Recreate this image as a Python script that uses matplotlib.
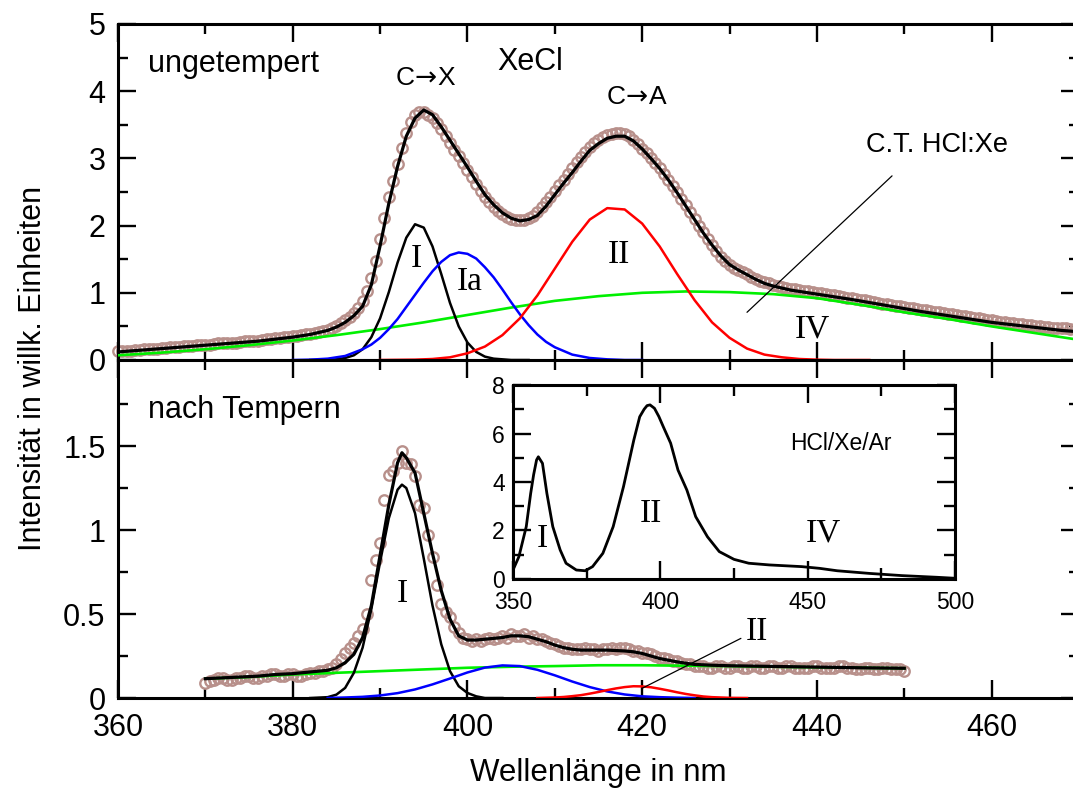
import numpy as np
import matplotlib
matplotlib.use("Agg")
import matplotlib.pyplot as plt
from matplotlib.ticker import MultipleLocator, FixedLocator, FormatStrFormatter

plt.rcParams['font.family'] = ['Liberation Sans', 'DejaVu Sans']

# ---------------- top panel (ungetempert) ----------------
top_data_x = np.arange(360, 470.25, 0.5)
top_data_y = [0.13, 0.13, 0.14, 0.14, 0.15, 0.15, 0.16, 0.17, 0.17, 0.17,   # 360
              0.18, 0.18, 0.19, 0.19, 0.20, 0.21, 0.21, 0.21, 0.22, 0.22,   # 365
              0.23, 0.23, 0.24, 0.25, 0.25, 0.25, 0.26, 0.26, 0.27, 0.28,   # 370
              0.28, 0.28, 0.29, 0.30, 0.31, 0.31, 0.32, 0.33, 0.34, 0.34,   # 375
              0.35, 0.36, 0.37, 0.38, 0.39, 0.40, 0.42, 0.43,               # 380 - 383.5
              0.45, 0.48, 0.51, 0.55, 0.59, 0.64, 0.70, 0.78, 0.88, 1.03,   # 384
              1.22, 1.48, 1.80, 2.12, 2.42, 2.66, 2.92, 3.15, 3.38, 3.54,   # 389
              3.64, 3.69, 3.69, 3.65, 3.60, 3.52, 3.43, 3.33, 3.23, 3.13,   # 394
              3.03, 2.93, 2.83, 2.73, 2.62, 2.52, 2.43, 2.35, 2.28, 2.22,   # 399
              2.17, 2.13, 2.10, 2.08, 2.08, 2.09, 2.11, 2.15, 2.20, 2.27,   # 404
              2.35, 2.43, 2.51, 2.60, 2.68, 2.77, 2.85, 2.94, 3.02, 3.10,   # 409
              3.17, 3.23, 3.28, 3.32, 3.35, 3.37, 3.38, 3.38, 3.36, 3.33,   # 414
              3.28, 3.22, 3.14, 3.08, 3.01, 2.93, 2.85, 2.77, 2.68, 2.59,   # 419
              2.50, 2.40, 2.30, 2.20, 2.10, 2.00, 1.90, 1.80, 1.71, 1.62,   # 424
              1.54, 1.47,                                                   # 429
              1.41, 1.37, 1.34, 1.31, 1.28, 1.24, 1.21, 1.18, 1.16, 1.14,   # 430
              1.12, 1.10, 1.09, 1.07, 1.06, 1.05, 1.04, 1.03, 1.02, 1.01,   # 435
              1.00, 0.99, 0.98, 0.97, 0.96, 0.95, 0.94, 0.93, 0.92, 0.91,   # 440
              0.90, 0.89, 0.88, 0.86, 0.85, 0.84, 0.83, 0.82, 0.81, 0.80,   # 445
              0.79, 0.78, 0.77, 0.76, 0.75, 0.74, 0.73, 0.72, 0.71, 0.70,   # 450
              0.69, 0.68, 0.67, 0.66, 0.65, 0.64, 0.63, 0.62, 0.61, 0.60,   # 455
              0.59, 0.58, 0.57, 0.56, 0.55, 0.55, 0.54, 0.53, 0.52, 0.52,   # 460
              0.51, 0.50, 0.49, 0.49, 0.48, 0.48, 0.47, 0.47, 0.46, 0.46,   # 465
              0.45]                                                         # 470

top_fit_x = [360, 362, 364, 366, 368, 370, 372, 374, 376, 378, 380, 381, 382, 383, 384, 385,
             386, 387, 388, 389, 390, 391, 392, 393, 394, 395, 396, 397, 398, 399, 400, 401,
             402, 403, 404, 405, 406, 407, 408, 409, 410, 411, 412, 413, 414, 415, 416, 417,
             418, 419, 420, 421, 422, 423, 424, 425, 426, 427, 428, 429, 430, 431, 432, 433,
             434, 435, 436, 437, 438, 440, 444, 448, 452, 456, 460, 464, 468, 470]
top_fit_y = [0.12, 0.14, 0.16, 0.18, 0.20, 0.22, 0.24, 0.26, 0.28, 0.31, 0.34, 0.36, 0.38, 0.41, 0.44, 0.49,
             0.56, 0.66, 0.80, 1.12, 1.70, 2.33, 2.88, 3.33, 3.60, 3.72, 3.65, 3.47, 3.27, 3.07, 2.87, 2.66,
             2.46, 2.31, 2.19, 2.11, 2.07, 2.09, 2.15, 2.29, 2.46, 2.63, 2.79, 2.96, 3.12, 3.22, 3.30, 3.33,
             3.33, 3.26, 3.14, 3.00, 2.85, 2.68, 2.49, 2.29, 2.09, 1.89, 1.71, 1.55, 1.42, 1.34, 1.27, 1.20,
             1.14, 1.10, 1.07, 1.04, 1.02, 0.98, 0.90, 0.81, 0.72, 0.64, 0.56, 0.50, 0.44, 0.42]

top_I_x = [382, 384, 385, 386, 387, 388, 389, 390, 391, 392, 393, 394, 395, 396, 397, 398,
           399, 400, 401, 402, 403, 404, 405, 407]
top_I_y = [0.0, 0.0, 0.01, 0.03, 0.07, 0.16, 0.34, 0.62, 1.01, 1.45, 1.82, 2.02, 1.97, 1.69, 1.28, 0.85,
           0.50, 0.26, 0.12, 0.05, 0.02, 0.01, 0.0, 0.0]

top_Ia_x = [380, 382, 384, 386, 388, 389, 390, 391, 392, 393, 394, 395, 396, 397, 398, 399,
            400, 401, 402, 403, 404, 405, 406, 407, 408, 409, 410, 412, 414, 416, 418, 420]
top_Ia_y = [0.0, 0.005, 0.02, 0.06, 0.16, 0.23, 0.33, 0.46, 0.61, 0.79, 0.97, 1.15, 1.32, 1.46, 1.56, 1.60,
            1.58, 1.51, 1.38, 1.23, 1.05, 0.86, 0.68, 0.52, 0.38, 0.27, 0.19, 0.08, 0.03, 0.01, 0.0, 0.0]

top_II_x = [390, 394, 396, 398, 400, 402, 404, 406, 408, 410, 412, 414, 416, 418, 420, 422,
            424, 426, 428, 430, 432, 434, 436, 438, 440, 442, 446]
top_II_y = [0.0, 0.005, 0.015, 0.04, 0.10, 0.20, 0.37, 0.62, 0.96, 1.36, 1.76, 2.09, 2.26, 2.24, 2.03, 1.69,
            1.28, 0.89, 0.56, 0.33, 0.17, 0.08, 0.04, 0.015, 0.005, 0.0, 0.0]

top_IV_x = [360, 365, 370, 375, 380, 385, 390, 395, 400, 405, 410, 415, 420, 425, 430, 435,
            440, 445, 450, 455, 460, 465, 470]
top_IV_y = [0.07, 0.11, 0.16, 0.22, 0.29, 0.37, 0.46, 0.56, 0.67, 0.78, 0.88, 0.95, 1.00, 1.02, 1.01, 0.98,
            0.92, 0.82, 0.71, 0.61, 0.50, 0.40, 0.30]

# ---------------- bottom panel (nach Tempern) ----------------
bot_data_x = np.arange(370, 450.25, 0.5)
bot_data_y = [0.09, 0.10, 0.11, 0.12, 0.12, 0.11, 0.11, 0.12, 0.12, 0.13,   # 370
              0.13, 0.12, 0.12, 0.13, 0.13, 0.14, 0.14, 0.13, 0.13, 0.14,   # 375
              0.14, 0.13, 0.13, 0.14, 0.15, 0.15, 0.16, 0.16, 0.17, 0.18,   # 380
              0.20, 0.23, 0.27, 0.30, 0.33, 0.37, 0.41, 0.50, 0.70, 0.82,   # 385
              0.92, 1.18, 1.33, 1.35, 1.40, 1.47, 1.40, 1.39, 1.32, 1.15,   # 390
              1.13, 0.97, 0.84, 0.67, 0.56, 0.51, 0.48, 0.42, 0.385, 0.36,  # 395
              0.35, 0.34, 0.35, 0.34, 0.35, 0.36, 0.35, 0.36, 0.37, 0.36,   # 400
              0.38, 0.37, 0.37, 0.38, 0.36, 0.37, 0.35, 0.35, 0.34, 0.33,   # 405
              0.32, 0.31, 0.30, 0.30, 0.29, 0.29, 0.29, 0.30, 0.29, 0.29,   # 410
              0.28, 0.29, 0.29, 0.30, 0.29, 0.30, 0.30, 0.29, 0.28, 0.28,   # 415
              0.27, 0.27, 0.26, 0.25, 0.24, 0.24, 0.23, 0.22, 0.22, 0.21,   # 420
              0.20, 0.20, 0.19, 0.19, 0.19, 0.18, 0.18, 0.19, 0.19, 0.18,   # 425
              0.18, 0.19, 0.19, 0.18, 0.18, 0.19, 0.19, 0.18, 0.18, 0.19,   # 430
              0.19, 0.18, 0.18, 0.19, 0.19, 0.18, 0.18, 0.18, 0.18, 0.19,   # 435
              0.19, 0.18, 0.18, 0.18, 0.18, 0.19, 0.19, 0.18, 0.18, 0.17,   # 440
              0.17, 0.18, 0.18, 0.17, 0.17, 0.18, 0.18, 0.17, 0.17, 0.17,   # 445
              0.16]                                                         # 450

bot_fit_x = [370, 372, 374, 376, 378, 380, 382, 384, 385, 386, 387, 388, 389, 390, 391, 392,
             392.5, 393, 394, 395, 396, 397, 398, 399, 400, 401, 402, 403, 404, 405, 406, 407,
             408, 409, 410, 411, 412, 413, 414, 416, 418, 419, 420, 421, 422, 423, 424, 425,
             426, 428, 430, 435, 440, 445, 450]
bot_fit_y = [0.115, 0.12, 0.125, 0.13, 0.14, 0.145, 0.155, 0.165, 0.18, 0.21, 0.26, 0.36, 0.55, 0.85, 1.15, 1.40,
             1.46, 1.43, 1.34, 1.10, 0.86, 0.64, 0.47, 0.37, 0.345, 0.345, 0.35, 0.355, 0.36, 0.37, 0.37, 0.365,
             0.35, 0.335, 0.315, 0.30, 0.29, 0.285, 0.285, 0.285, 0.28, 0.275, 0.265, 0.25, 0.235, 0.225, 0.215, 0.207,
             0.20, 0.195, 0.192, 0.188, 0.184, 0.18, 0.177]

bot_I_x = [382, 384, 385, 386, 387, 388, 389, 390, 391, 392, 392.5, 393, 394, 395, 396, 397,
           398, 399, 400, 401, 402, 404]
bot_I_y = [0.0, 0.005, 0.02, 0.06, 0.15, 0.30, 0.53, 0.81, 1.07, 1.24, 1.27, 1.25, 1.10, 0.83, 0.55, 0.32,
           0.16, 0.07, 0.03, 0.01, 0.0, 0.0]

bot_Ia_x = [384, 386, 388, 390, 392, 394, 396, 398, 400, 402, 404, 406, 408, 410, 412, 414,
            416, 418, 420, 422, 424, 426]
bot_Ia_y = [0.0, 0.003, 0.007, 0.015, 0.029, 0.051, 0.081, 0.116, 0.152, 0.181, 0.194, 0.190, 0.168, 0.135, 0.098, 0.065,
            0.039, 0.021, 0.010, 0.005, 0.002, 0.0]

bot_II_x = [408, 410, 411, 412, 413, 414, 415, 416, 417, 418, 419, 420, 421, 422, 423, 424,
            425, 426, 427, 428, 429, 430, 432]
bot_II_y = [0.0, 0.003, 0.006, 0.011, 0.017, 0.026, 0.036, 0.047, 0.057, 0.065, 0.070, 0.069, 0.064, 0.055, 0.045, 0.034,
            0.024, 0.016, 0.009, 0.005, 0.003, 0.001, 0.0]

bot_IV_x = [370, 375, 380, 385, 390, 395, 400, 405, 410, 415, 420, 425, 430, 435, 440, 445, 450]
bot_IV_y = [0.115, 0.125, 0.14, 0.15, 0.16, 0.17, 0.18, 0.186, 0.19, 0.195, 0.195, 0.192, 0.19, 0.186, 0.183, 0.18, 0.177]

# ---------------- inset (HCl/Xe/Ar) ----------------
ins_x = [350, 352, 354.5, 356, 357, 358, 358.6, 360, 361.5, 363.5, 366, 368, 371.5, 374.5, 377, 380.5,
         384, 387.5, 391, 393, 394.5, 395.5, 396.5, 398, 399.5, 401, 403.5, 406, 409, 412, 416, 420,
         425, 430, 437, 448, 454, 460, 471, 482, 494, 500]
ins_y = [0.37, 0.92, 2.16, 3.53, 4.30, 4.91, 5.04, 4.77, 3.53, 2.16, 1.20, 0.65, 0.37, 0.34, 0.51, 1.06,
         2.16, 3.81, 5.73, 6.69, 7.00, 7.15, 7.18, 7.04, 6.70, 6.28, 5.60, 4.49, 3.67, 2.57, 1.74, 1.13,
         0.81, 0.65, 0.58, 0.51, 0.44, 0.34, 0.23, 0.14, 0.07, 0.03]

dcol = '#b8908b'
green = '#00f000'
serif = ['Liberation Serif', 'DejaVu Serif']

fig = plt.figure(figsize=(10.73, 7.88), dpi=100)
ax1 = fig.add_axes([0.10997, 0.54315, 0.89562, 0.42640])
ax2 = fig.add_axes([0.10997, 0.11421, 0.89562, 0.42893])


def style(ax, size, major, minor):
    for s in ax.spines.values():
        s.set_linewidth(2.2)
    ax.tick_params(which='both', direction='in', top=True, right=True, labelsize=size, width=1.7)
    ax.tick_params(which='major', length=major, pad=9)
    ax.tick_params(which='minor', length=minor)


# top
ax1.plot(top_data_x, top_data_y, 'o', mfc='none', mec=dcol, ms=7.5, mew=1.7, zorder=2, clip_on=False)
ax1.plot(top_IV_x, top_IV_y, color=green, lw=1.9, zorder=3)
ax1.plot(top_I_x, top_I_y, color='black', lw=1.8, zorder=3)
ax1.plot(top_Ia_x, top_Ia_y, color='#0000ff', lw=1.8, zorder=3)
ax1.plot(top_II_x, top_II_y, color='#ff0000', lw=1.8, zorder=3)
ax1.plot(top_fit_x, top_fit_y, color='black', lw=2.3, zorder=4)
ax1.set_xlim(360, 470)
ax1.set_ylim(0, 5)
ax1.xaxis.set_major_locator(MultipleLocator(20))
ax1.xaxis.set_minor_locator(MultipleLocator(10))
ax1.yaxis.set_major_locator(MultipleLocator(1))
ax1.yaxis.set_minor_locator(MultipleLocator(0.5))
style(ax1, 22, 13, 7)
ax1.tick_params(labelbottom=False)

ax1.text(363.4, 4.29, 'ungetempert', fontsize=22, va='baseline')
ax1.text(403.4, 4.32, 'XeCl', fontsize=22, va='baseline')
ax1.text(395.2, 4.09, r'C$\!\rightarrow\!$X', fontsize=19, ha='center', va='baseline')
ax1.text(419.4, 3.81, r'C$\!\rightarrow\!$A', fontsize=19, ha='center', va='baseline')
ax1.text(453.7, 3.10, 'C.T. HCl:Xe', fontsize=19.5, ha='center', va='baseline')
ax1.text(394.1, 1.38, 'I', family=serif, fontsize=24, ha='center', va='baseline')
ax1.text(400.3, 1.04, 'Ia', family=serif, fontsize=24, ha='center', va='baseline')
ax1.text(417.3, 1.44, 'II', family=serif, fontsize=24, ha='center', va='baseline')
ax1.text(439.5, 0.33, 'IV', family=serif, fontsize=24, ha='center', va='baseline')
ax1.annotate('', xy=(432.0, 0.71), xytext=(448.6, 2.74),
             arrowprops=dict(arrowstyle='-', lw=0.9, color='black', shrinkA=0, shrinkB=0))

# bottom
ax2.plot(bot_data_x, bot_data_y, 'o', mfc='none', mec=dcol, ms=7.5, mew=1.7, zorder=2)
ax2.plot(bot_IV_x, bot_IV_y, color=green, lw=1.9, zorder=3)
ax2.plot(bot_I_x, bot_I_y, color='black', lw=1.8, zorder=3)
ax2.plot(bot_Ia_x, bot_Ia_y, color='#0000ff', lw=1.8, zorder=3)
ax2.plot(bot_II_x, bot_II_y, color='#ff0000', lw=1.8, zorder=3)
ax2.plot(bot_fit_x, bot_fit_y, color='black', lw=2.3, zorder=4)
ax2.set_xlim(360, 470)
ax2.set_ylim(0, 2.012)
ax2.xaxis.set_major_locator(MultipleLocator(20))
ax2.xaxis.set_minor_locator(MultipleLocator(10))
ax2.yaxis.set_major_locator(FixedLocator([0, 0.5, 1, 1.5]))
ax2.yaxis.set_minor_locator(FixedLocator([0.25, 0.75, 1.25, 1.75]))
ax2.yaxis.set_major_formatter(FormatStrFormatter('%g'))
style(ax2, 22, 13, 7)
ax2.tick_params(axis='x', which='major', pad=11)

ax2.text(363.4, 1.667, 'nach Tempern', fontsize=22, va='baseline')
ax2.text(392.6, 0.571, 'I', family=serif, fontsize=24, ha='center', va='baseline')
ax2.text(433.1, 0.345, 'II', family=serif, fontsize=24, ha='center', va='baseline')
ax2.annotate('', xy=(420.0, 0.058), xytext=(431.3, 0.355),
             arrowprops=dict(arrowstyle='-', lw=0.9, color='black', shrinkA=0, shrinkB=0))

# inset
ax3 = fig.add_axes([0.47810, 0.26523, 0.41193, 0.24619])
ax3.set_facecolor('white')
ax3.plot(ins_x, ins_y, color='black', lw=2.0)
ax3.set_xlim(350, 500)
ax3.set_ylim(0, 8)
ax3.xaxis.set_major_locator(MultipleLocator(50))
ax3.xaxis.set_minor_locator(MultipleLocator(25))
ax3.yaxis.set_major_locator(MultipleLocator(2))
ax3.yaxis.set_minor_locator(MultipleLocator(1))
style(ax3, 16.5, 13, 8)
ax3.tick_params(axis='y', which='major', pad=6)
ax3.tick_params(axis='x', which='major', pad=9)
ax3.text(461.3, 5.32, 'HCl/Xe/Ar', fontsize=16.5, ha='center', va='baseline')
ax3.text(359.8, 1.32, 'I', family=serif, fontsize=24, ha='center', va='baseline')
ax3.text(396.8, 2.35, 'II', family=serif, fontsize=24, ha='center', va='baseline')
ax3.text(455.2, 1.53, 'IV', family=serif, fontsize=24, ha='center', va='baseline')

fig.text(0.5575, 0.009, 'Wellenl\u00e4nge in nm', fontsize=22.5, ha='center', va='baseline')
fig.text(0.031, 0.533, 'Intensit\u00e4t in willk. Einheiten', fontsize=22, rotation=90,
         ha='center', va='center')

fig.savefig('out.png', dpi=100)
